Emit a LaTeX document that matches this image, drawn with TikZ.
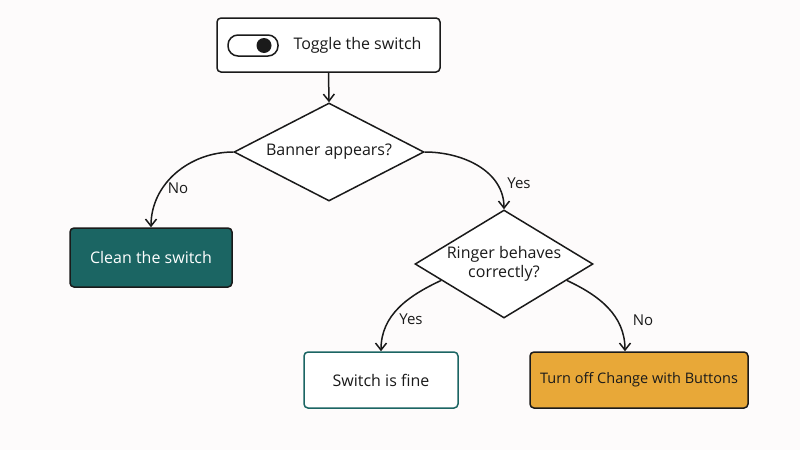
\documentclass[tikz,border=0pt]{standalone}
\usepackage{fontspec}
\setmainfont{Open Sans}
\usetikzlibrary{shapes.geometric,arrows.meta,calc}
\definecolor{bg}{HTML}{FDFBFB}
\definecolor{tealc}{HTML}{1B6563}
\definecolor{orangec}{HTML}{E8A838}
\definecolor{inkc}{HTML}{1A1A1A}
\tikzset{
  base/.style={draw=inkc, line width=1.5pt, font=\fontsize{16}{19}\selectfont, text=inkc},
  boxc/.style={base, rectangle, rounded corners=4pt, minimum height=57pt, inner sep=0pt},
  dec/.style={base, diamond, inner sep=0pt, fill=white, align=center},
  arr/.style={draw=inkc, line width=1.5pt, -{Straight Barb[length=7pt,width=11pt]}},
  lab/.style={font=\fontsize{15}{18}\selectfont, text=inkc}
}
\begin{document}
\begin{tikzpicture}[x=1pt,y=-1pt]
\fill[bg] (0,0) rectangle (800,450);
\useasboundingbox (0,0) rectangle (800,450);

\node[boxc, fill=white, minimum width=223pt, minimum height=54pt] (toggle) at (328.5,45) {};
\node[font=\fontsize{16}{19}\selectfont, text=inkc, anchor=west] (tgtext) at (290,45) {Toggle the switch};
\draw[draw=inkc, line width=1.5pt, rounded corners=10pt] (228,35) rectangle (278,56);
\fill[inkc] (264,45.5) circle (7.5pt);

\node[dec, aspect=2, minimum width=190pt, minimum height=98pt] (d1) at (329,152) {Banner appears?};
\node[boxc, fill=tealc, text=white, minimum width=162pt, minimum height=59pt] (clean) at (151,257.5) {Clean the switch};
\node[dec, aspect=1.65, minimum width=178pt, minimum height=108pt] (d2) at (504,264) {Ringer behaves\\correctly?};
\node[boxc, draw=tealc, fill=white, minimum width=154pt, minimum height=56pt] (fine) at (381,380) {Switch is fine};
\node[boxc, fill=orangec, minimum width=218pt, minimum height=56pt, font=\fontsize{14.5}{17}\selectfont] (turn) at (639,380) {Turn off Change with Buttons};

\coordinate (turnin) at ($(turn.north)+(-14,0)$);
\coordinate (d2l) at ($(d2.west)!0.3!(d2.south)$);
\coordinate (d2r) at ($(d2.east)!0.3!(d2.south)$);

\draw[arr] (toggle.south) -- (d1.north);
\draw[arr] (d1.west) to[out=180,in=90] (clean.north);
\draw[arr] (d1.east) to[out=0,in=90] (d2.north);
\draw[arr] (d2l) to[out=205,in=90] (fine.north);
\draw[arr] (d2r) to[out=-25,in=90] (turnin);

\node[lab] (l1) at (178,188) {No};
\node[lab] (l2) at (519,183) {Yes};
\node[lab] (l3) at (411,319) {Yes};
\node[lab] (l4) at (643,320) {No};
\end{tikzpicture}
\end{document}
